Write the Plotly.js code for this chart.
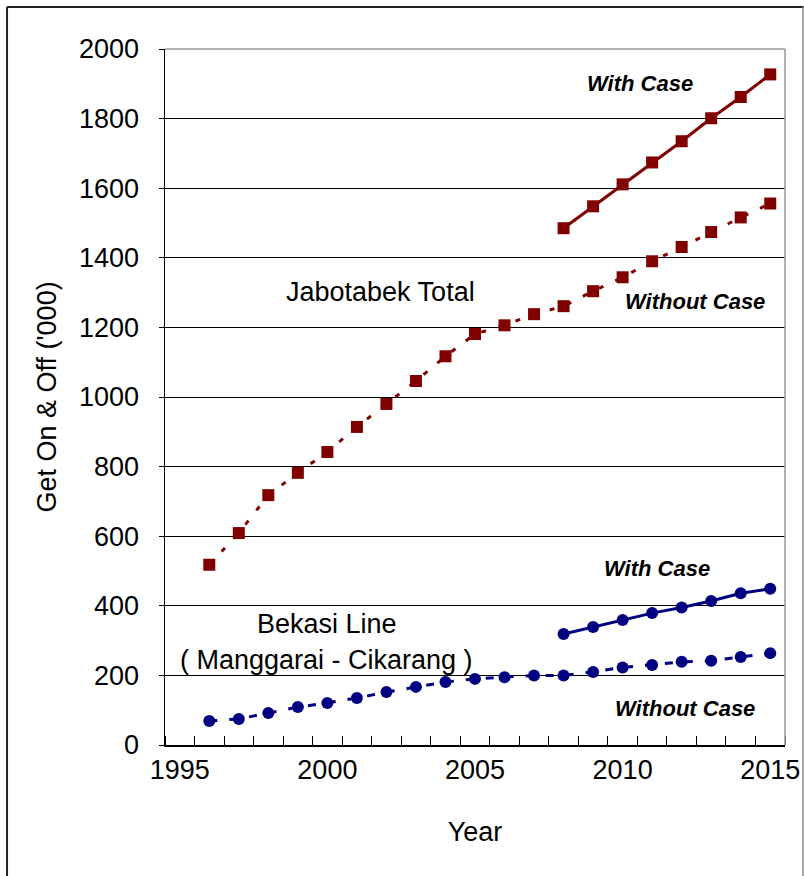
<!DOCTYPE html>
<html>
<head>
<meta charset="utf-8">
<script src="https://cdn.plot.ly/plotly-3.0.1.min.js"></script>
<style>
html,body{margin:0;padding:0;background:#fff;}
#chart{width:804px;height:876px;}
</style>
</head>
<body>
<div id="chart"></div>
<script>
// Data
const yearsAll = [1996,1997,1998,1999,2000,2001,2002,2003,2004,2005,2006,2007,2008,2009,2010,2011,2012,2013,2014,2015];
const yearsCase = [2008,2009,2010,2011,2012,2013,2014,2015];
const jabotabekWithout = [518,609,718,782,842,914,980,1046,1117,1181,1206,1238,1261,1304,1344,1390,1431,1474,1516,1556];
const jabotabekWith = [1485,1548,1611,1674,1735,1801,1862,1927];
const bekasiWithout = [69,75,92,109,121,135,152,167,181,190,195,200,200,210,223,230,239,242,253,264];
const bekasiWith = [319,339,359,379,395,414,436,449];
const xTickVals = [1995,2000,2005,2010,2015];
const xTickText = ['1995','2000','2005','2010','2015'];
const yTickVals = [0,200,400,600,800,1000,1200,1400,1600,1800,2000];

const RED = '#800000';
const BLUE = '#000080';
const FONT = 'Liberation Sans, Arial, sans-serif';

const traces = [
  {x: yearsAll, y: jabotabekWithout, mode: 'lines+markers', type: 'scatter',
   line: {color: RED, width: 3, dash: '5px,13px'},
   marker: {symbol: 'square', size: 12, color: RED}},
  {x: yearsCase, y: jabotabekWith, mode: 'lines+markers', type: 'scatter',
   line: {color: RED, width: 3},
   marker: {symbol: 'square', size: 12, color: RED}},
  {x: yearsAll, y: bekasiWithout, mode: 'lines+markers', type: 'scatter',
   line: {color: BLUE, width: 3, dash: '8px,12px'},
   marker: {symbol: 'circle', size: 12, color: BLUE}},
  {x: yearsCase, y: bekasiWith, mode: 'lines+markers', type: 'scatter',
   line: {color: BLUE, width: 3},
   marker: {symbol: 'circle', size: 12, color: BLUE}}
];

const bi = {family: FONT, size: 22, color: '#000', weight: 'bold', style: 'italic'};
const reg = {family: FONT, size: 27, color: '#000'};

const layout = {
  width: 804, height: 876,
  margin: {l: 165, r: 19, t: 49, b: 131},
  paper_bgcolor: '#fff', plot_bgcolor: '#fff',
  showlegend: false,
  font: {family: FONT, color: '#000'},
  xaxis: {
    range: [1994.5, 2015.5],
    tickvals: xTickVals, ticktext: xTickText,
    ticks: '', showgrid: false, zeroline: false,
    showline: true, linecolor: '#000', linewidth: 1.5,
    tickfont: {family: FONT, size: 27, color: '#000'},
    ticklabelstandoff: 0,
    minor: {tick0: 1994.5, dtick: 1, ticks: 'inside', ticklen: 9, tickcolor: '#000', tickwidth: 1, showgrid: false},
    title: {text: 'Year', font: {family: FONT, size: 27, color: '#000'}, standoff: 38}
  },
  yaxis: {
    range: [0, 2000],
    tickvals: yTickVals,
    ticks: 'outside', ticklen: 5, tickcolor: '#000',
    showgrid: true, gridcolor: '#000', gridwidth: 1,
    zeroline: false,
    showline: true, linecolor: '#000', linewidth: 1.5,
    tickfont: {family: FONT, size: 27, color: '#000'},
    ticklabelstandoff: 14,
    title: {text: "Get On & Off ('000)", font: {family: FONT, size: 27, color: '#000'}, standoff: 14}
  },
  shapes: [
    {type: 'line', xref: 'paper', yref: 'paper', x0: 0, x1: 1, y0: 1, y1: 1, line: {color: '#999', width: 1.5}},
    {type: 'line', xref: 'paper', yref: 'paper', x0: 1, x1: 1, y0: 0, y1: 1, line: {color: '#999', width: 1.5}},
    {type: 'line', xref: 'paper', yref: 'paper', x0: -0.2548, x1: 1.03, y0: 1.0603, y1: 1.0603, line: {color: '#222', width: 2}},
    {type: 'line', xref: 'paper', yref: 'paper', x0: -0.2548, x1: -0.2548, y0: -0.2, y1: 1.0603, line: {color: '#222', width: 2}},
    {type: 'line', xref: 'paper', yref: 'paper', x0: 1.0290, x1: 1.0290, y0: -0.2, y1: 1.0603, line: {color: '#888', width: 1.5}}
  ],
  annotations: [
    {xref: 'x', yref: 'y', x: 2010.58, y: 1900, text: '<b><i>With Case</i></b>', showarrow: false, font: bi},
    {xref: 'x', yref: 'y', x: 2012.46, y: 1275, text: '<b><i>Without Case</i></b>', showarrow: false, font: bi},
    {xref: 'x', yref: 'y', x: 2001.8, y: 1302, text: 'Jabotabek Total', showarrow: false, font: reg},
    {xref: 'x', yref: 'y', x: 2011.15, y: 506, text: '<b><i>With Case</i></b>', showarrow: false, font: bi},
    {xref: 'x', yref: 'y', x: 2000.0, y: 348, text: 'Bekasi Line', showarrow: false, font: reg},
    {xref: 'x', yref: 'y', x: 1999.97, y: 244, text: '( Manggarai - Cikarang )', showarrow: false, font: reg},
    {xref: 'x', yref: 'y', x: 2012.1, y: 106, text: '<b><i>Without Case</i></b>', showarrow: false, font: bi}
  ]
};

Plotly.newPlot('chart', traces, layout, {displayModeBar: false, staticPlot: true});
</script>
</body>
</html>
